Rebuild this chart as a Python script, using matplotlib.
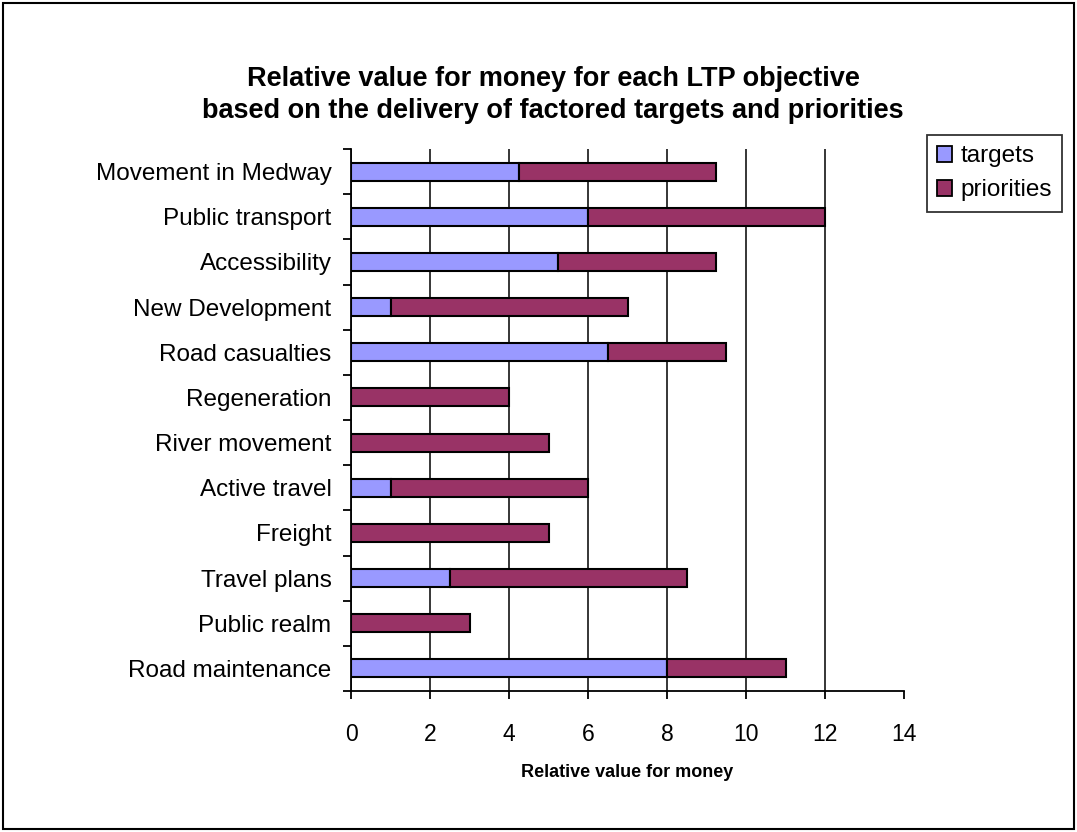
import matplotlib
matplotlib.use("Agg")
import matplotlib.pyplot as plt
from matplotlib.patches import Rectangle, Patch

plt.rcParams['font.family'] = ['Liberation Sans', 'DejaVu Sans']

categories = ["Movement in Medway", "Public transport", "Accessibility", "New Development",
              "Road casualties", "Regeneration", "River movement", "Active travel",
              "Freight", "Travel plans", "Public realm", "Road maintenance"]
targets = [4.25, 6, 5.25, 1, 6.5, 0, 0, 1, 0, 2.5, 0, 8]
priorities = [5, 6, 4, 6, 3, 4, 5, 5, 5, 6, 3, 3]
xticks = [0, 2, 4, 6, 8, 10, 12, 14]

c_targets = "#9999FF"
c_priorities = "#993366"

fig = plt.figure(figsize=(10.77, 8.32), dpi=100)
ax = fig.add_axes([351/1077, 1-691/832, (904-351)/1077, (691-149)/832])

n = len(categories)
ypos = list(range(n))
ax.barh(ypos, targets, height=0.4, color=c_targets, edgecolor="black", linewidth=1.5, zorder=3)
ax.barh(ypos, priorities, left=targets, height=0.4, color=c_priorities, edgecolor="black", linewidth=1.5, zorder=3)

ax.set_ylim(n - 0.5, -0.5)
ax.set_xlim(0, 14)
ax.set_xticks(xticks)
ax.set_xticklabels([str(t) for t in xticks], fontsize=16.5)
ax.set_yticks(ypos)
ax.set_yticklabels(categories, fontsize=17.5)
ax.tick_params(axis='y', length=0, pad=14)
ax.set_yticks([i - 0.5 for i in range(n + 1)], minor=True)
ax.tick_params(axis='y', which='minor', length=6, width=1.3, direction='out')
ax.tick_params(axis='x', length=6, width=1.3, direction='out', pad=17)

ax.grid(axis='x', color='black', linewidth=1.1, zorder=0)
ax.xaxis.get_gridlines()[-1].set_visible(False)
for s in ['top', 'right']:
    ax.spines[s].set_visible(False)
for s in ['left', 'bottom']:
    ax.spines[s].set_linewidth(1.3)

ax.set_xlabel("Relative value for money", fontsize=13, fontweight='bold', labelpad=13)

fig.text(553/1077, 1-95/832,
         "Relative value for money for each LTP objective\nbased on the delivery of factored targets and priorities",
         ha='center', va='center', fontsize=19.5, fontweight='bold', linespacing=1.3)

handles = [Patch(facecolor=c_targets, edgecolor='black', linewidth=1.3, label='targets'),
           Patch(facecolor=c_priorities, edgecolor='black', linewidth=1.3, label='priorities')]
leg = fig.legend(handles=handles, loc='upper left', bbox_to_anchor=(927/1077, 1-135/832),
                 fontsize=17.5, frameon=True, fancybox=False, edgecolor='black',
                 handlelength=0.62, handleheight=0.62, handletextpad=0.33,
                 borderpad=0.42, labelspacing=0.5, borderaxespad=0)
leg.get_frame().set_linewidth(1.3)

fig.patches.append(Rectangle((3/1077, 3/832), 1071/1077, 826/832, transform=fig.transFigure,
                             fill=False, edgecolor='black', linewidth=1.5))

fig.savefig("out.png", dpi=100)
